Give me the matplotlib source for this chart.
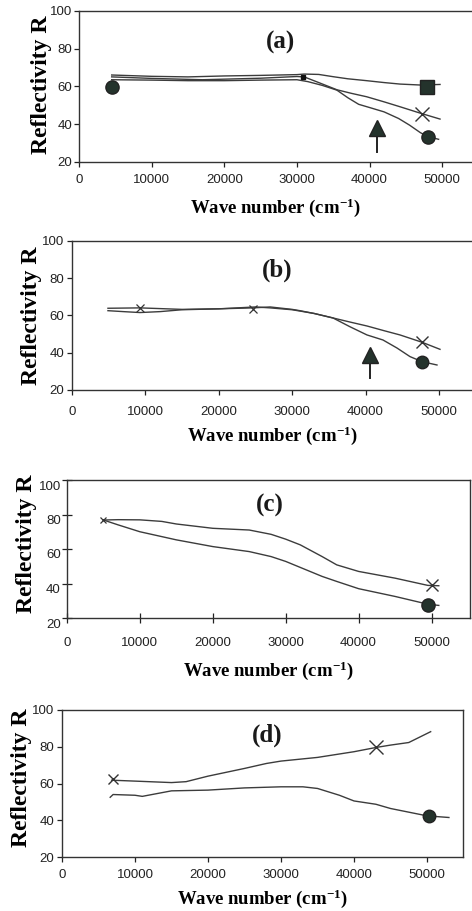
import matplotlib
matplotlib.use("Agg")
import matplotlib.pyplot as plt
import matplotlib.transforms as mtransforms

plt.rcParams['font.family'] = ['Liberation Sans', 'DejaVu Sans']
plt.rcParams['mathtext.fontset'] = 'custom'
plt.rcParams['mathtext.rm'] = 'Liberation Serif:bold'
plt.rcParams['mathtext.bf'] = 'Liberation Serif:bold'
plt.rcParams['mathtext.default'] = 'rm'

# ---------------- data ----------------
# panel (a)
xa_sq = [4500, 10000, 15000, 20000, 25000, 30000, 31000, 33000, 35000, 37000, 39600, 42000, 44200, 47000, 49700]
ya_sq = [66.0, 65.3, 65.0, 65.5, 65.8, 66.2, 66.5, 66.3, 65.1, 64.0, 63.0, 62.0, 61.2, 60.7, 61.0]
xa_x = [4500, 10000, 17000, 25000, 30000, 31000, 33000, 35500, 37500, 39600, 42000, 44200, 47000, 49700]
ya_x = [65.0, 64.2, 63.5, 64.3, 65.2, 65.0, 62.0, 58.2, 56.3, 54.5, 51.8, 49.2, 45.8, 42.7]
xa_ci = [4500, 10000, 15000, 20000, 25000, 30000, 31500, 33500, 35500, 37000, 38500, 40000, 42000, 44000, 45500, 47000, 48000, 49500]
ya_ci = [63.5, 63.3, 63.0, 63.0, 63.3, 63.5, 62.5, 60.5, 58.0, 54.0, 50.5, 48.8, 46.5, 43.0, 39.5, 35.5, 33.5, 32.0]
a_markers_sq = ([47900], [59.5])
a_markers_x = ([47250], [45.5])
a_markers_ci = ([4600, 48000], [59.5, 33.2])
a_dot = ([30900], [65.0])
a_arrow = (41000, 25.5, 36.5)

# panel (b)
xb_x = [4900, 9260, 15000, 20000, 24660, 27000, 30000, 31060, 33000, 35560, 38000, 40190, 42500, 44690, 47680, 50140]
yb_x = [63.8, 64.0, 63.2, 63.5, 64.0, 64.5, 63.2, 62.5, 61.0, 58.6, 56.3, 54.3, 51.8, 49.5, 45.6, 41.8]
xb_ci = [4900, 7000, 9260, 12000, 15000, 20000, 25000, 27000, 30000, 31060, 33000, 35560, 37870, 40190, 42370, 44280, 46050, 47680, 49730]
yb_ci = [62.5, 62.0, 61.5, 62.0, 63.0, 63.5, 64.5, 64.0, 63.0, 62.3, 61.0, 58.6, 53.9, 49.5, 46.8, 42.5, 37.9, 35.2, 33.4]
b_small_x = ([9260, 24660], [64.0, 63.5])
b_big_x = ([47680], [45.6])
b_markers_ci = ([47680], [35.0])
b_arrow = (40600, 26.3, 37.0)

# panel (c)
xc_x = [5000, 7000, 10000, 13000, 15000, 20000, 25000, 28000, 30000, 32000, 35000, 37000, 40000, 45000, 49500, 51000]
yc_x = [76.8, 77.0, 76.9, 76.0, 74.5, 72.0, 71.0, 68.5, 65.7, 62.4, 55.6, 50.8, 47.0, 43.1, 38.9, 38.7]
xc_ci = [5000, 7000, 10000, 15000, 20000, 25000, 28000, 30000, 35000, 37000, 40000, 45000, 49500, 51000]
yc_ci = [76.8, 74.0, 70.0, 65.3, 61.4, 58.5, 55.6, 52.8, 44.1, 41.2, 37.0, 32.5, 28.0, 27.3]
c_start_x = ([5000], [76.8])
c_markers_x = ([50000], [38.9])
c_markers_ci = ([49500], [27.5])

# panel (d)
xd_x = [6800, 10000, 15000, 17000, 20000, 25000, 28000, 30000, 35000, 40000, 43000, 45000, 47500, 50500]
yd_x = [61.8, 61.3, 60.5, 61.0, 64.0, 68.2, 70.9, 72.2, 74.2, 77.3, 79.6, 80.9, 82.3, 88.2]
xd_ci = [6600, 7000, 10000, 11000, 15000, 20000, 25000, 30000, 33000, 35000, 38000, 40000, 43000, 45000, 48000, 50000, 53000]
yd_ci = [52.5, 54.0, 53.6, 53.0, 56.0, 56.4, 57.6, 58.2, 58.2, 57.3, 53.6, 50.5, 48.7, 46.4, 44.0, 42.4, 41.5]
d_small_x = ([7000], [62.6])
d_big_x = ([43000], [79.6])
d_markers_ci = ([50300], [42.3])

xticks = [0, 10000, 20000, 30000, 40000, 50000]
yticks = [20, 40, 60, 80, 100]
panel_labels = ['(a)', '(b)', '(c)', '(d)']
xlabel = 'Wave number (cm$^{-1}$)'
ylabel = 'Reflectivity R'

# ---------------- style ----------------
LINE = '#3c3c3c'
MARK = '#24332c'
SERIF = ['Liberation Serif', 'DejaVu Serif']

fig = plt.figure(figsize=(4.72, 9.11), dpi=100)

W, H = 472.0, 911.0
def pos(left, top, right, bottom):
    return [left / W, 1 - bottom / H, (right - left) / W, (bottom - top) / H]

specs = [
    dict(rect=pos(79, 10.7, 472, 162), xmax=54100, right=False, tdir='out', tlen=3.5, xpad=5, ypad=1.5,
         xl=-0.225, yl=(-0.068, 0.51), lab=(27700, 83.0)),
    dict(rect=pos(72, 240.7, 472, 390), xmax=54500, right=False, tdir='out', tlen=3.5, xpad=8, ypad=2,
         xl=-0.234, yl=(-0.075, 0.50), lab=(27900, 84.3)),
    dict(rect=pos(67, 480, 470, 618), xmax=55280, right=True, tdir='inout', tlen=7, xpad=10, ypad=1,
         xl=-0.30, yl=(-0.074, 0.54), lab=(27850, 85.5)),
    dict(rect=pos(62, 710, 463, 857), xmax=54930, right=True, tdir='out', tlen=3.5, xpad=5.5, ypad=2,
         xl=-0.21, yl=(-0.075, 0.537), lab=(28080, 86.4)),
]

axes = []
for i, s in enumerate(specs):
    ax = fig.add_axes(s['rect'])
    ax.set_xlim(0, s['xmax'])
    ax.set_ylim(20, 100)
    ax.set_xticks(xticks)
    ax.set_yticks(yticks)
    ax.tick_params(direction=s['tdir'], length=s['tlen'], width=0.9, colors='#222222', labelsize=9.5)
    ax.tick_params(axis='x', pad=s['xpad'])
    ax.tick_params(axis='y', pad=s['ypad'])
    for sp in ax.spines.values():
        sp.set_linewidth(1.0)
        sp.set_color('#333333')
    if not s['right']:
        ax.spines['right'].set_visible(False)
    ax.set_xlabel(xlabel, fontsize=13.5, family=SERIF, fontweight='bold')
    ax.xaxis.set_label_coords(0.5, s['xl'])
    ax.set_ylabel(ylabel, fontsize=17, family=SERIF, fontweight='bold')
    ax.yaxis.set_label_coords(*s['yl'])
    ax.text(s['lab'][0], s['lab'][1], panel_labels[i], fontsize=18, family=SERIF,
            fontweight='bold', ha='center', va='center', color='#1a1a1a')
    axes.append(ax)

lw = 1.0
# (a)
ax = axes[0]
ax.plot(xa_sq, ya_sq, color=LINE, lw=lw)
ax.plot(xa_x, ya_x, color=LINE, lw=lw)
ax.plot(xa_ci, ya_ci, color=LINE, lw=lw)
ax.plot(*a_markers_sq, ls='none', marker='s', ms=9.5, mfc=MARK, mec='#222222')
ax.plot(*a_markers_x, ls='none', marker='x', ms=10, mew=1.0, color='#333333')
ax.plot(*a_markers_ci, ls='none', marker='o', ms=9.5, mfc=MARK, mec='#222222')
ax.plot(*a_dot, ls='none', marker='s', ms=3.5, color='#111111')
ax.plot([a_arrow[0], a_arrow[0]], [a_arrow[1], a_arrow[2]], color='#222222', lw=1.4)
ax.plot([a_arrow[0]], [a_arrow[2] + 1.5], ls='none', marker='^', ms=11, mfc=MARK, mec='#222222')

# (b)
ax = axes[1]
ax.plot(xb_x, yb_x, color=LINE, lw=lw)
ax.plot(xb_ci, yb_ci, color=LINE, lw=lw)
ax.plot(*b_small_x, ls='none', marker='x', ms=5.5, mew=0.9, color='#333333')
ax.plot(*b_big_x, ls='none', marker='x', ms=9, mew=1.0, color='#333333')
ax.plot(*b_markers_ci, ls='none', marker='o', ms=9, mfc=MARK, mec='#222222')
ax.plot([b_arrow[0], b_arrow[0]], [b_arrow[1], b_arrow[2]], color='#222222', lw=1.4)
ax.plot([b_arrow[0]], [b_arrow[2] + 1.5], ls='none', marker='^', ms=11, mfc=MARK, mec='#222222')

# (c)
ax = axes[2]
ax.plot(xc_x, yc_x, color=LINE, lw=lw)
ax.plot(xc_ci, yc_ci, color=LINE, lw=lw)
ax.plot(*c_start_x, ls='none', marker='x', ms=5, mew=0.9, color='#333333')
ax.plot(*c_markers_x, ls='none', marker='x', ms=9, mew=1.0, color='#333333')
ax.plot(*c_markers_ci, ls='none', marker='o', ms=9.5, mfc=MARK, mec='#222222')
off = mtransforms.ScaledTranslation(0, -5 / 100.0, fig.dpi_scale_trans)
for t in ax.get_yticklabels():
    t.set_transform(t.get_transform() + off)

# (d)
ax = axes[3]
ax.plot(xd_x, yd_x, color=LINE, lw=lw)
ax.plot(xd_ci, yd_ci, color=LINE, lw=lw)
ax.plot(*d_small_x, ls='none', marker='x', ms=7, mew=1.0, color='#333333')
ax.plot(*d_big_x, ls='none', marker='x', ms=10, mew=1.0, color='#333333')
ax.plot(*d_markers_ci, ls='none', marker='o', ms=9, mfc=MARK, mec='#222222')

fig.savefig('out.png', dpi=100)
